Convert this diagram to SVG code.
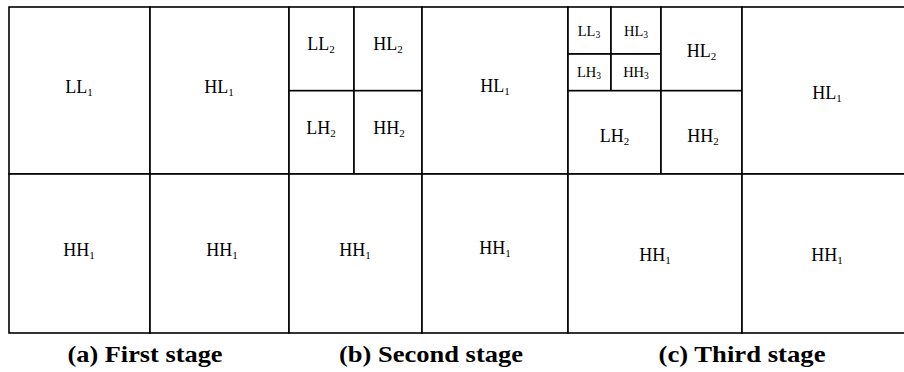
<svg xmlns="http://www.w3.org/2000/svg" width="904" height="372" viewBox="0 0 904 372">
<style>
  .cell { fill: #ffffff; stroke: #000000; stroke-width: 1.6; }
  .lbl { font-family: "Liberation Serif", "Times New Roman", serif; font-size: 18px; fill: #000; text-anchor: middle; }
  .sm { font-size: 14.5px; }
  .sub { font-size: 11px; }
  .sm .sub { font-size: 9.5px; }
  .cap { font-family: "Liberation Serif", "Times New Roman", serif; font-size: 24px; font-weight: bold; fill: #000; text-anchor: middle; }
</style>
<rect x="0" y="0" width="904" height="372" fill="#ffffff"/>
<g id="stage1">
  <g id="s1-LL1"><rect class="cell" x="9" y="7" width="141" height="167"/><text class="lbl" x="79" y="93">LL<tspan class="sub" dy="3">1</tspan></text></g>
  <g id="s1-HL1"><rect class="cell" x="150" y="7" width="139" height="167"/><text class="lbl" x="219" y="93">HL<tspan class="sub" dy="3">1</tspan></text></g>
  <g id="s1-HH1a"><rect class="cell" x="9" y="174" width="141" height="159"/><text class="lbl" x="79" y="256">HH<tspan class="sub" dy="3">1</tspan></text></g>
  <g id="s1-HH1b"><rect class="cell" x="150" y="174" width="139" height="159"/><text class="lbl" x="222" y="256">HH<tspan class="sub" dy="3">1</tspan></text></g>
</g>
<g id="stage2">
  <g id="s2-LL2"><rect class="cell" x="289" y="7" width="65" height="83.7"/><text class="lbl" x="321" y="50">LL<tspan class="sub" dy="3">2</tspan></text></g>
  <g id="s2-HL2"><rect class="cell" x="354" y="7" width="68" height="83.7"/><text class="lbl" x="388" y="50">HL<tspan class="sub" dy="3">2</tspan></text></g>
  <g id="s2-LH2"><rect class="cell" x="289" y="90.7" width="65" height="83.3"/><text class="lbl" x="321" y="134">LH<tspan class="sub" dy="3">2</tspan></text></g>
  <g id="s2-HH2"><rect class="cell" x="354" y="90.7" width="68" height="83.3"/><text class="lbl" x="389" y="134">HH<tspan class="sub" dy="3">2</tspan></text></g>
  <g id="s2-HL1"><rect class="cell" x="422" y="7" width="146" height="167"/><text class="lbl" x="495" y="92">HL<tspan class="sub" dy="3">1</tspan></text></g>
  <g id="s2-HH1a"><rect class="cell" x="289" y="174" width="133" height="159"/><text class="lbl" x="355" y="256">HH<tspan class="sub" dy="3">1</tspan></text></g>
  <g id="s2-HH1b"><rect class="cell" x="422" y="174" width="146" height="159"/><text class="lbl" x="495" y="254">HH<tspan class="sub" dy="3">1</tspan></text></g>
</g>
<g id="stage3">
  <g id="s3-LL3"><rect class="cell" x="568" y="7" width="43" height="47"/><text class="lbl sm" x="589" y="36">LL<tspan class="sub" dy="2">3</tspan></text></g>
  <g id="s3-HL3"><rect class="cell" x="611" y="7" width="50" height="47"/><text class="lbl sm" x="636" y="36">HL<tspan class="sub" dy="2">3</tspan></text></g>
  <g id="s3-LH3"><rect class="cell" x="568" y="54" width="43" height="36.7"/><text class="lbl sm" x="589" y="77">LH<tspan class="sub" dy="2">3</tspan></text></g>
  <g id="s3-HH3"><rect class="cell" x="611" y="54" width="50" height="36.7"/><text class="lbl sm" x="636" y="77">HH<tspan class="sub" dy="2">3</tspan></text></g>
  <g id="s3-HL2"><rect class="cell" x="661" y="7" width="81" height="83.7"/><text class="lbl" x="701.5" y="57">HL<tspan class="sub" dy="3">2</tspan></text></g>
  <g id="s3-LH2"><rect class="cell" x="568" y="90.7" width="93" height="83.3"/><text class="lbl" x="614.5" y="142">LH<tspan class="sub" dy="3">2</tspan></text></g>
  <g id="s3-HH2"><rect class="cell" x="661" y="90.7" width="81" height="83.3"/><text class="lbl" x="703" y="142">HH<tspan class="sub" dy="3">2</tspan></text></g>
  <g id="s3-HL1"><rect class="cell" x="742" y="7" width="170" height="167"/><text class="lbl" x="827" y="99">HL<tspan class="sub" dy="3">1</tspan></text></g>
  <g id="s3-HH1a"><rect class="cell" x="568" y="174" width="174" height="159"/><text class="lbl" x="655" y="261">HH<tspan class="sub" dy="3">1</tspan></text></g>
  <g id="s3-HH1b"><rect class="cell" x="742" y="174" width="170" height="159"/><text class="lbl" x="827" y="261">HH<tspan class="sub" dy="3">1</tspan></text></g>
</g>
<g id="connectors"></g>
<g id="captions">
  <text class="cap" x="145" y="362" textLength="155" lengthAdjust="spacingAndGlyphs">(a) First stage</text>
  <text class="cap" x="431" y="362" textLength="184" lengthAdjust="spacingAndGlyphs">(b) Second stage</text>
  <text class="cap" x="742" y="362" textLength="167" lengthAdjust="spacingAndGlyphs">(c) Third stage</text>
</g>
</svg>
